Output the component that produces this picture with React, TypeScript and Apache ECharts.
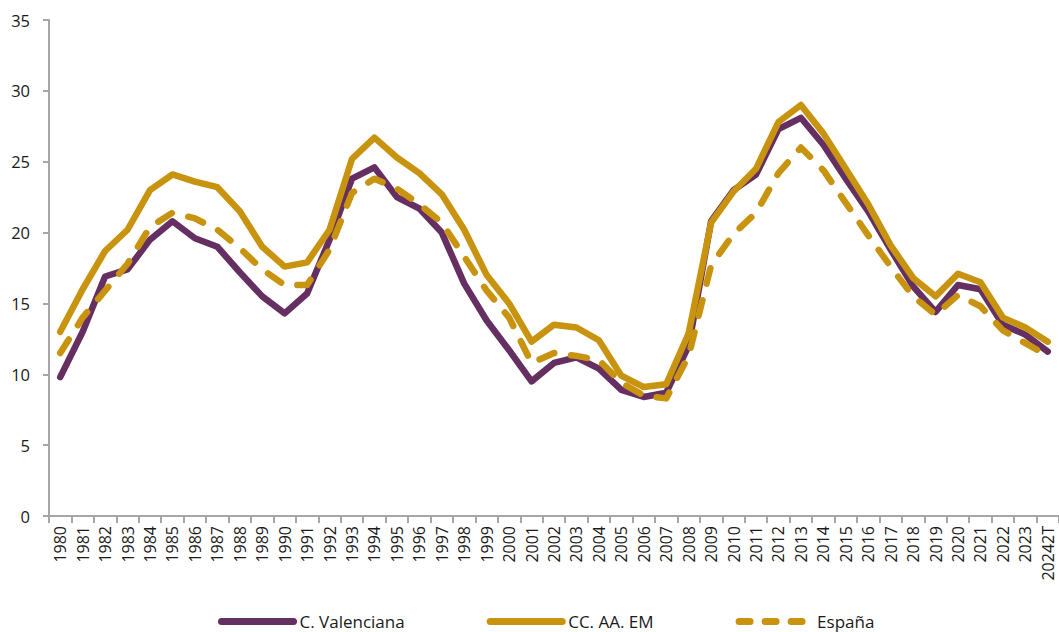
import React, { useEffect, useRef } from "react";
import * as echarts from "echarts";

const categories = [
  "1980","1981","1982","1983","1984","1985","1986","1987","1988","1989",
  "1990","1991","1992","1993","1994","1995","1996","1997","1998","1999",
  "2000","2001","2002","2003","2004","2005","2006","2007","2008","2009",
  "2010","2011","2012","2013","2014","2015","2016","2017","2018","2019",
  "2020","2021","2022","2023","20242T",
];

const valenciana = [
  9.8, 13.0, 16.9, 17.4, 19.5, 20.8, 19.6, 19.0, 17.2, 15.5,
  14.3, 15.7, 19.5, 23.8, 24.6, 22.5, 21.7, 20.0, 16.4, 13.8,
  11.7, 9.5, 10.8, 11.2, 10.4, 8.9, 8.4, 8.7, 12.0, 20.8,
  23.0, 24.1, 27.3, 28.1, 26.2, 23.8, 21.5, 18.8, 16.2, 14.4,
  16.3, 16.0, 13.5, 12.8, 11.6,
];

const ccaaEM = [
  13.0, 16.0, 18.7, 20.2, 23.0, 24.1, 23.6, 23.2, 21.5, 19.0,
  17.6, 17.9, 20.2, 25.2, 26.7, 25.3, 24.2, 22.7, 20.2, 17.0,
  15.0, 12.3, 13.5, 13.3, 12.4, 9.9, 9.1, 9.3, 12.9, 20.7,
  22.9, 24.5, 27.8, 29.0, 27.0, 24.5, 22.0, 19.1, 16.8, 15.5,
  17.1, 16.5, 14.0, 13.3, 12.3,
];

const espana = [
  11.5, 14.0, 15.9, 17.8, 20.4, 21.4, 21.0, 20.2, 18.9, 17.4,
  16.3, 16.3, 18.8, 22.8, 23.8, 23.1, 22.0, 20.7, 18.3, 15.9,
  14.0, 10.8, 11.5, 11.3, 11.0, 9.4, 8.5, 8.3, 11.3, 17.7,
  19.9, 21.4, 24.2, 26.0, 24.4, 22.1, 19.8, 17.6, 15.5, 14.2,
  15.6, 14.8, 13.1, 12.2, 11.3,
];

const PURPLE = "#652f61";
const GOLD = "#c8930e";
const FONT = "'Open Sans', 'Noto Sans', sans-serif";

export default function App() {
  const ref = useRef<HTMLDivElement>(null);

  useEffect(() => {
    if (!ref.current) return;
    const chart = echarts.init(ref.current, null, { renderer: "svg" });
    chart.setOption({
      animation: false,
      backgroundColor: "#ffffff",
      textStyle: { fontFamily: FONT },
      grid: { left: 49, top: 20, width: 1012, height: 496, containLabel: false },
      legend: {
        top: 613,
        left: 218,
        padding: 0,
        itemWidth: 72,
        itemHeight: 8,
        itemGap: 82,
        itemStyle: { opacity: 0 },
        lineStyle: { width: 7, cap: "round" },
        textStyle: { fontFamily: FONT, fontSize: 17, color: "#1a1a1a", padding: [0, 0, 0, 1] },
        data: [
          { name: "C. Valenciana", lineStyle: { width: 7, cap: "round", color: PURPLE } },
          { name: "CC. AA. EM", lineStyle: { width: 7, cap: "round", color: GOLD } },
          { name: "España", lineStyle: { width: 7, cap: "round", color: GOLD, type: [11, 15] } },
        ],
      },
      xAxis: {
        type: "category",
        data: categories,
        boundaryGap: true,
        axisLine: { show: true, lineStyle: { color: "#a6a6a6", width: 2 } },
        axisTick: { show: true, alignWithLabel: false, length: 7, lineStyle: { color: "#a6a6a6", width: 2 } },
        axisLabel: {
          rotate: 90,
          interval: 0,
          margin: 10,
          fontFamily: FONT,
          fontSize: 16,
          color: "#1a1a1a",
        },
        splitLine: { show: false },
      },
      yAxis: {
        type: "value",
        min: 0,
        max: 35,
        interval: 5,
        axisLine: { show: true, lineStyle: { color: "#a6a6a6", width: 2 } },
        axisTick: { show: true, length: 6, lineStyle: { color: "#a6a6a6", width: 2 } },
        axisLabel: { margin: 19, fontFamily: FONT, fontSize: 16.5, color: "#1a1a1a" },
        splitLine: { show: false },
      },
      series: [
        {
          name: "C. Valenciana",
          type: "line",
          data: valenciana,
          symbol: "none",
          showSymbol: false,
          color: PURPLE,
          lineStyle: { color: PURPLE, width: 6.5, cap: "round", join: "round" },
        },
        {
          name: "CC. AA. EM",
          type: "line",
          data: ccaaEM,
          symbol: "none",
          showSymbol: false,
          color: GOLD,
          lineStyle: { color: GOLD, width: 6.5, cap: "round", join: "round" },
        },
        {
          name: "España",
          type: "line",
          data: espana,
          symbol: "none",
          showSymbol: false,
          color: GOLD,
          lineStyle: { color: GOLD, width: 6.5, type: [16, 17], cap: "round", join: "round" },
        },
      ],
    });
    return () => chart.dispose();
  }, []);

  return (
    <div
      ref={ref}
      style={{ position: "fixed", left: 0, top: 0, width: 1059, height: 632, background: "#fff" }}
    />
  );
}
